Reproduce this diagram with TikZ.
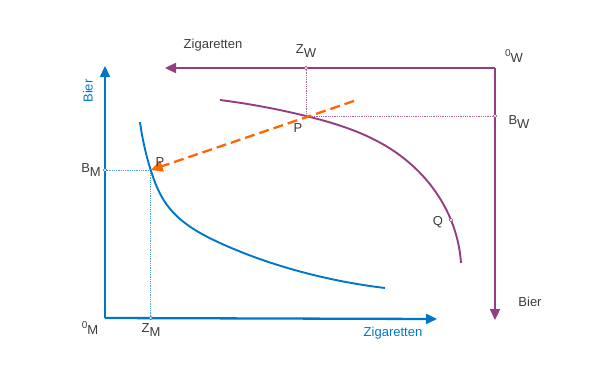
\documentclass[tikz,border=0pt]{standalone}
\usepackage{fontspec}
\setmainfont{Liberation Sans}
\usetikzlibrary{arrows.meta,hobby}
\definecolor{mblue}{RGB}{0,118,200}
\definecolor{mpurple}{RGB}{148,62,128}
\definecolor{morange}{RGB}{255,102,0}
\definecolor{mtext}{RGB}{60,60,60}
\newcommand{\lowsb}[1]{\raisebox{-0.45ex}{#1}}
\begin{document}
\begin{tikzpicture}[x=1pt,y=-1pt,
  lbl/.style={text=mtext,font=\fontsize{13}{15}\selectfont,inner sep=1pt},
  blbl/.style={text=mblue,font=\fontsize{13}{15}\selectfont,inner sep=1pt},
  baxis/.style={draw=mblue,line width=2.3pt,-{Triangle[length=11pt,width=10pt]}},
  paxis/.style={draw=mpurple,line width=2.3pt,-{Triangle[length=11pt,width=10pt]}},
  bcurve/.style={draw=mblue,line width=1.9pt},
  pcurve/.style={draw=mpurple,line width=1.9pt},
  bdot/.style={draw=mblue!70,densely dotted,line width=0.8pt},
  pdot/.style={draw=mpurple!80,densely dotted,line width=0.8pt},
  tick/.style={circle,draw=#1,fill=white,inner sep=0pt,minimum size=3.5pt,line width=0.5pt},
  orr/.style={draw=morange,line width=2.3pt,dash pattern=on 10pt off 5pt,-{Triangle[length=12pt,width=11pt]}}]
\useasboundingbox (0,0) rectangle (600,388);
% coordinates
\coordinate (OM) at (105,318);
\coordinate (YT) at (105,66);
\coordinate (XT) at (437,319);
\coordinate (OW) at (495,68);
\coordinate (WX) at (165,68);
\coordinate (WY) at (495,320);
\coordinate (PM) at (150.7,170);
\coordinate (PW) at (306,116);
\coordinate (BMa) at (105,170);
\coordinate (ZMa) at (150.7,318);
\coordinate (ZWa) at (306,68);
\coordinate (BWa) at (495,116);
\coordinate (OS) at (354,101);
\coordinate (Q) at (451,220);
% dotted guides
\draw[bdot] (BMa) -- (PM) -- (ZMa);
\draw[pdot] (ZWa) -- (PW) -- (BWa);
% curves
\draw[bcurve,use Hobby shortcut] (140,122) .. (PM) .. (167,205) .. (220,243) .. (300,271.5) .. (385,288);
\draw[pcurve,use Hobby shortcut] (220,100) .. (PW) .. (390,148.5) .. (Q) .. (461,263);
% axes
\draw[baxis] (OM) -- (YT);
\draw[baxis] (OM) -- (XT);
\draw[paxis] (OW) -- (WX);
\draw[paxis] (OW) -- (WY);
% orange
\draw[orr] (OS) -- (PM);
% ticks
\node[tick=mblue] (tb) at (BMa) {};
\node[tick=mblue] (tz) at (ZMa) {};
\node[tick=mpurple] (tzw) at (ZWa) {};
\node[tick=mpurple] (tbw) at (BWa) {};
\node[tick=mpurple] (tq) at (Q) {};
% labels
\node[blbl,rotate=90] (bier1) at (88,91) {Bier};
\node[blbl] (zig1) at (393,333) {Zigaretten};
\node[lbl] (zig2) at (213,45) {Zigaretten};
\node[lbl] (bier2) at (530,302) {Bier};
\node[lbl] (bm) at (91,170) {B\lowsb{M}};
\node[lbl] (om) at (90,328) {\raisebox{0.3ex}{\fontsize{10}{11}\selectfont 0}\lowsb{M}};
\node[lbl] (zm) at (151,330) {Z\lowsb{M}};
\node[lbl] (zw) at (306,51) {Z\lowsb{W}};
\node[lbl] (ow) at (514,56) {\raisebox{0.3ex}{\fontsize{10}{11}\selectfont 0}\lowsb{W}};
\node[lbl] (bw) at (519,122) {B\lowsb{W}};
\node[lbl] (p1) at (160,162) {P};
\node[lbl] (p2) at (298,128) {P};
\node[lbl] (q) at (438,222) {Q};
\end{tikzpicture}
\end{document}
